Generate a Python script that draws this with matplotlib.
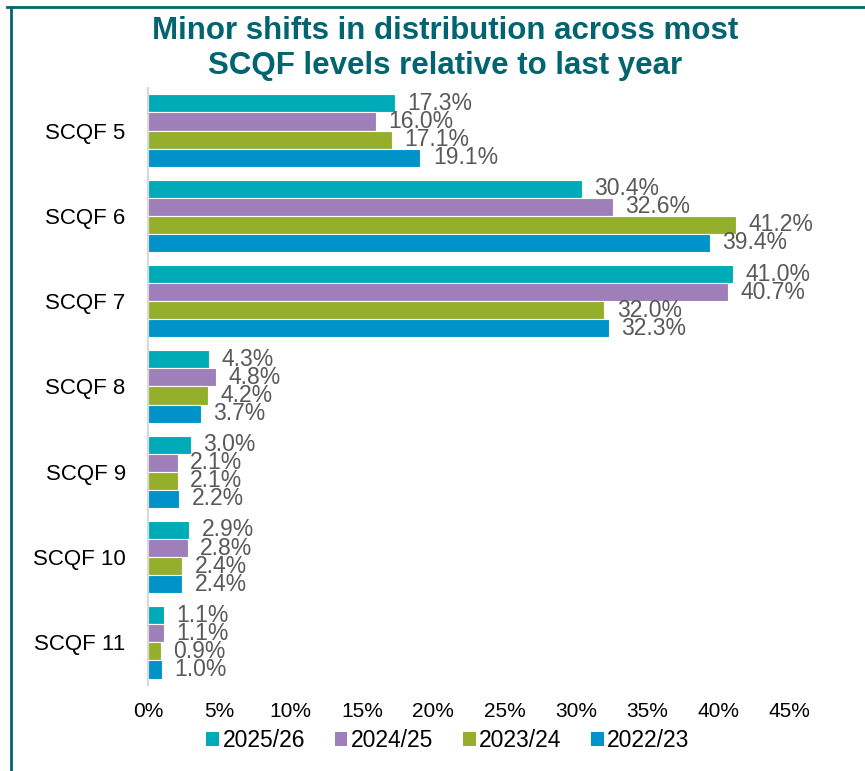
import numpy as np
import matplotlib.pyplot as plt
from matplotlib.lines import Line2D
from matplotlib.patches import Patch

levels = ['SCQF 5', 'SCQF 6', 'SCQF 7', 'SCQF 8', 'SCQF 9', 'SCQF 10', 'SCQF 11']
years = ['2025/26', '2024/25', '2023/24', '2022/23']
v2526 = [17.3, 30.4, 41.0, 4.3, 3.0, 2.9, 1.1]
v2425 = [16.0, 32.6, 40.7, 4.8, 2.1, 2.8, 1.1]
v2324 = [17.1, 41.2, 32.0, 4.2, 2.1, 2.4, 0.9]
v2223 = [19.1, 39.4, 32.3, 3.7, 2.2, 2.4, 1.0]
series = [v2526, v2425, v2324, v2223]
colors = ['#00abb8', '#9e7fba', '#95ae2b', '#0093c9']

plt.rcParams['font.family'] = ['Liberation Sans', 'DejaVu Sans']

fig = plt.figure(figsize=(8.65, 7.71), dpi=100)
ax = fig.add_axes([0.171, 0.1115, 0.742, 0.7745])

y = np.arange(len(levels))
h = 0.212
for i, vals in enumerate(series):
    pos = y + (i - 1.5) * h
    ax.barh(pos, vals, height=h, color=colors[i], edgecolor='white', linewidth=0.8, label=years[i])
    for p, v in zip(pos, vals):
        ax.annotate(f'{v:.1f}%', (v, p), xytext=(9, 0), textcoords='offset points',
                    va='center', ha='left', fontsize=16.5, color='#595959')

ax.set_ylim(len(levels) - 0.5, -0.5)
ax.set_xlim(0, 45)
ax.set_xticks(np.arange(0, 46, 5))
ax.set_xticklabels([f'{t}%' for t in range(0, 46, 5)], fontsize=15)
ax.set_yticks(y)
ax.set_yticklabels(levels, fontsize=16)
ax.tick_params(axis='both', length=0)
ax.tick_params(axis='y', pad=16)
ax.tick_params(axis='x', pad=12)
for s in ['top', 'right', 'bottom']:
    ax.spines[s].set_visible(False)
ax.spines['left'].set_color('#d9d9d9')
ax.spines['left'].set_linewidth(1.5)

title_font = ['Liberation Sans Narrow', 'Liberation Sans', 'DejaVu Sans']
fig.text(0.515, 0.937, 'Minor shifts in distribution across most\nSCQF levels relative to last year',
         ha='center', va='center', fontsize=22.5, fontweight='bold', color='#006570',
         family=title_font, linespacing=1.22)

handles = [Patch(facecolor=c, label=l) for c, l in zip(colors, years)]
fig.legend(handles=handles, loc='center', bbox_to_anchor=(0.518, 0.039), ncol=4, frameon=False,
           fontsize=16.5, handlelength=0.55, handleheight=0.55, handletextpad=0.15, columnspacing=1.3)

fig.add_artist(Line2D([0.008, 1.0], [0.991, 0.991], color='#006570', linewidth=2, transform=fig.transFigure))
fig.add_artist(Line2D([0.013, 0.013], [0.0, 0.991], color='#006570', linewidth=2, transform=fig.transFigure))

fig.savefig('out.png', dpi=100)
